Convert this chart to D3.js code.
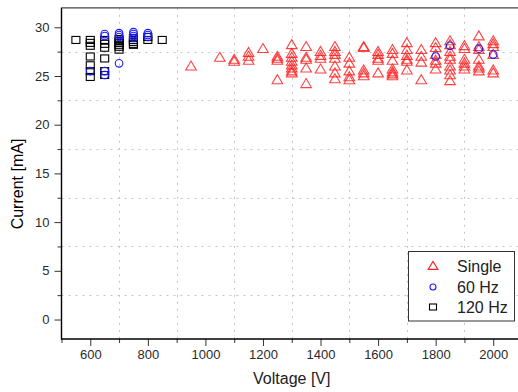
<!DOCTYPE html>
<html>
<head>
<meta charset="utf-8">
<script src="https://cdn.jsdelivr.net/npm/d3@7"></script>
<style>
  html, body { margin: 0; padding: 0; background: #fff; }
  svg { display: block; font-family: "Liberation Sans", Arial, sans-serif; }
</style>
</head>
<body>
<svg id="chart" width="518" height="392"></svg>
<script>
// ---------------- data ----------------
const seriesNames = ["Single", "60 Hz", "120 Hz"];

const singleVoltages = [950, 1050, 1100, 1150, 1200, 1250, 1300, 1350, 1400, 1450, 1500,
  1550, 1600, 1650, 1700, 1750, 1800, 1850, 1900, 1950, 2000];
const singleCurrents = [
  [26.0],
  [26.9],
  [26.7, 26.5],
  [27.4, 27.0, 26.6],
  [27.8],
  [27.0, 26.8, 26.6, 24.6],
  [28.2, 27.3, 26.9, 26.5, 26.1, 25.8, 25.5, 25.3],
  [28.0, 26.9, 26.7, 25.8, 24.2],
  [27.5, 27.1, 26.8, 25.7],
  [28.0, 27.5, 27.2, 26.8, 26.0, 25.3, 24.7],
  [26.9, 26.3, 25.5, 24.9, 24.6],
  [28.0, 27.9, 25.6, 25.3, 25.0],
  [27.5, 27.2, 26.8, 26.6, 25.3],
  [27.7, 27.3, 26.6, 25.7, 25.4, 25.2, 25.0],
  [28.4, 27.7, 27.1, 26.7, 26.5, 25.6],
  [27.7, 27.0, 26.4, 24.6],
  [28.4, 27.9, 27.2, 26.6, 26.3, 25.7],
  [28.6, 28.2, 27.5, 27.0, 26.7, 26.0, 25.6, 25.1, 24.5],
  [28.1, 27.8, 26.7, 26.3, 26.0, 25.7],
  [29.1, 28.0, 27.7, 26.7, 26.0, 25.8, 25.5],
  [28.6, 28.3, 28.0, 27.2, 25.6, 25.3]
];

const hz60Voltages = [600, 650, 700, 750, 800, 1800, 1850, 1950, 2000];
const hz60Currents = [
  [25.5],
  [29.3, 29.1, 25.5, 25.1],
  [29.4, 29.2, 29.0, 26.3],
  [29.5, 29.3, 29.1, 28.9],
  [29.4, 29.2, 29.0],
  [27.0],
  [28.1],
  [27.8],
  [27.2]
];

const hz120Voltages = [550, 600, 650, 700, 750, 800, 850];
const hz120Currents = [
  [28.7],
  [28.7, 28.4, 28.1, 27.0, 26.1, 25.5, 24.9],
  [28.7, 28.3, 27.9, 26.8, 25.5, 25.1],
  [28.8, 28.6, 28.4, 28.2, 28.0, 27.7],
  [28.9, 28.7, 28.5, 28.3, 28.2],
  [29.0, 28.7],
  [28.7]
];

const xMajorTicks = [600, 800, 1000, 1200, 1400, 1600, 1800, 2000];
const xMinorTicks = [500, 700, 900, 1100, 1300, 1500, 1700, 1900, 2100];
const yMajorTicks = [0, 5, 10, 15, 20, 25, 30];
const yMinorTicks = [2.5, 7.5, 12.5, 17.5, 22.5, 27.5];

const xTitle = "Voltage [V]";
const yTitle = "Current [mA]";

// ---------------- helpers ----------------
function flatten(vs, cs) {
  const out = [];
  vs.forEach((v, i) => cs[i].forEach(c => out.push({ v: v, c: c })));
  return out;
}
const singlePts = flatten(singleVoltages, singleCurrents);
const hz60Pts = flatten(hz60Voltages, hz60Currents);
const hz120Pts = flatten(hz120Voltages, hz120Currents);

// ---------------- layout ----------------
const svg = d3.select("#chart");
const pLeft = 61.5, pRight = 522, pTop = 7.8, pBottom = 339;

const x = d3.scaleLinear().domain([500, 2100]).range([pLeft, pRight]);
const y = d3.scaleLinear().domain([-2, 32]).range([pBottom, pTop]);

// grid (at minor positions, dotted)
const grid = svg.append("g");
grid.selectAll("line.gx").data(xMinorTicks.filter(d => d > 500 && d < 2100)).enter().append("line")
  .attr("x1", d => Math.round(x(d)) + 0.5).attr("x2", d => Math.round(x(d)) + 0.5)
  .attr("y1", pTop).attr("y2", pBottom)
  .attr("stroke", "#c4c4c4").attr("stroke-width", 1).attr("stroke-dasharray", "2,5");
grid.selectAll("line.gy").data(yMinorTicks).enter().append("line")
  .attr("y1", d => Math.round(y(d)) + 0.5).attr("y2", d => Math.round(y(d)) + 0.5)
  .attr("x1", pLeft).attr("x2", pRight)
  .attr("stroke", "#c4c4c4").attr("stroke-width", 1).attr("stroke-dasharray", "2,5");

// top frame
svg.append("line").attr("x1", pLeft).attr("x2", pRight).attr("y1", pTop).attr("y2", pTop)
  .attr("stroke", "#444").attr("stroke-width", 1.2);

// axes
const xAxis = d3.axisBottom(x).tickValues(xMajorTicks).tickSize(7).tickPadding(4).tickFormat(d3.format("d"));
const xAxisMinor = d3.axisBottom(x).tickValues(xMinorTicks).tickSize(4).tickFormat("");
const yAxis = d3.axisLeft(y).tickValues(yMajorTicks).tickSize(7).tickPadding(5).tickFormat(d3.format("d"));
const yAxisMinor = d3.axisLeft(y).tickValues(yMinorTicks).tickSize(4).tickFormat("");

function styleAxis(g) {
  g.select(".domain").remove();
  g.selectAll(".tick line").attr("stroke", "#333").attr("stroke-width", 1);
  g.selectAll(".tick text").attr("fill", "#2a2a2a").style("font-size", "13px")
    .style("font-family", "'Liberation Sans', Arial, sans-serif");
}

svg.append("g").attr("transform", `translate(0,${pBottom})`).call(xAxisMinor).call(styleAxis);
svg.append("g").attr("transform", `translate(0,${pBottom})`).call(xAxis).call(styleAxis);
svg.append("g").attr("transform", `translate(${pLeft},0)`).call(yAxisMinor).call(styleAxis);
svg.append("g").attr("transform", `translate(${pLeft},0)`).call(yAxis).call(styleAxis);

// axis lines
svg.append("line").attr("x1", pLeft).attr("x2", pLeft).attr("y1", pTop).attr("y2", pBottom + 0.7)
  .attr("stroke", "#000").attr("stroke-width", 1.4);
svg.append("line").attr("x1", pLeft).attr("x2", pRight).attr("y1", pBottom).attr("y2", pBottom)
  .attr("stroke", "#000").attr("stroke-width", 1.4);

// titles
svg.append("text").attr("x", (pLeft + pRight) / 2).attr("y", 384)
  .attr("text-anchor", "middle").attr("fill", "#222").style("font-size", "16px").text(xTitle);
svg.append("text").attr("transform", "translate(23,184) rotate(-90)")
  .attr("text-anchor", "middle").attr("fill", "#000").style("font-size", "16px").text(yTitle);

// markers
const triPath = "M0,-5.2L5.3,3.8L-5.3,3.8Z";
const plot = svg.append("g");

plot.selectAll("path.single").data(singlePts).enter().append("path")
  .attr("d", triPath)
  .attr("transform", d => `translate(${x(d.v)},${y(d.c)})`)
  .attr("fill", "none").attr("stroke", "#ff2020").attr("stroke-width", 1.1).attr("stroke-opacity", 0.85);

plot.selectAll("rect.hz120").data(hz120Pts).enter().append("rect")
  .attr("x", d => x(d.v) - 4).attr("y", d => y(d.c) - 3.5)
  .attr("width", 8).attr("height", 7)
  .attr("fill", "none").attr("stroke", "#000").attr("stroke-width", 1.1);

plot.selectAll("circle.hz60").data(hz60Pts).enter().append("circle")
  .attr("cx", d => x(d.v)).attr("cy", d => y(d.c)).attr("r", 3.8)
  .attr("fill", "none").attr("stroke", "#1a1aff").attr("stroke-width", 1.1);

// legend
const lg = svg.append("g");
lg.append("rect").attr("x", 408.5).attr("y", 251.5).attr("width", 106).attr("height", 69.5)
  .attr("fill", "#fff").attr("stroke", "#333").attr("stroke-width", 1);
const lgY = [266, 287, 307];
lg.append("path").attr("d", "M0,-4.6L4.9,3.4L-4.9,3.4Z").attr("transform", `translate(433,${lgY[0]})`)
  .attr("fill", "none").attr("stroke", "#ff2020").attr("stroke-width", 1.1);
lg.append("circle").attr("cx", 433).attr("cy", lgY[1]).attr("r", 3)
  .attr("fill", "none").attr("stroke", "#1a1aff").attr("stroke-width", 1.1);
lg.append("rect").attr("x", 429.5).attr("y", lgY[2] - 3).attr("width", 7).attr("height", 6)
  .attr("fill", "none").attr("stroke", "#000").attr("stroke-width", 1.1);
seriesNames.forEach((n, i) => {
  lg.append("text").attr("x", 457).attr("y", lgY[i] + 6).attr("fill", "#222")
    .style("font-size", "16px").text(n);
});
</script>
</body>
</html>
